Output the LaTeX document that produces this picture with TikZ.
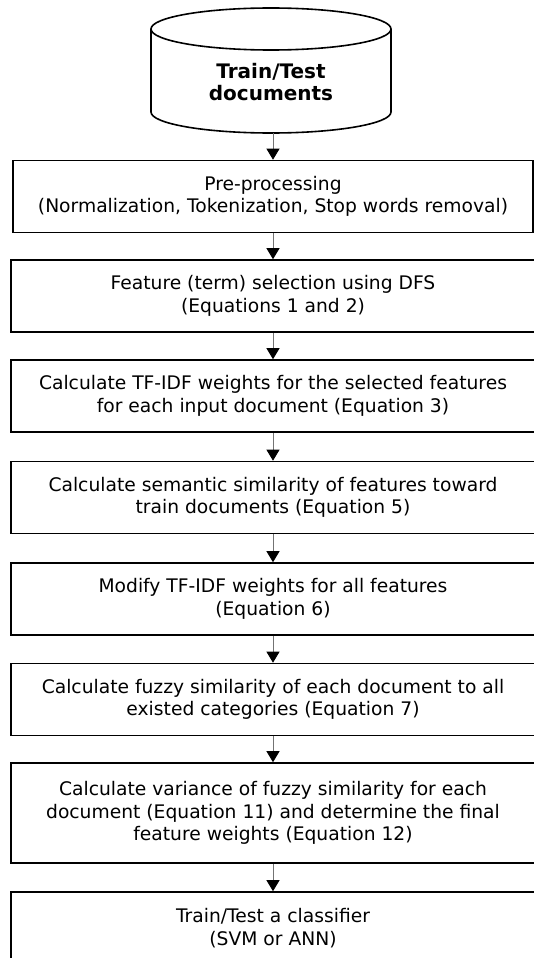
\documentclass[tikz,border=0pt]{standalone}
\usepackage{fontspec}
\setmainfont{DejaVu Sans}
\usepackage{tikz}
\usetikzlibrary{arrows.meta,positioning}

\begin{document}
\begin{tikzpicture}[x=1pt,y=-1pt, font=\fontsize{18.7}{22.5}\selectfont,
  stepbox/.style={draw, line width=1.6pt, minimum width=524pt, minimum height=72pt,
    align=center, inner sep=0pt},
  flow/.style={draw=black!55, line width=0.9pt,
    -{Triangle[length=11pt,width=13pt,color=black]}}]
\useasboundingbox (0,0) rectangle (534,958);
% data store
\draw[line width=1.6pt] (151,29) -- (151,112)
  arc[start angle=180,end angle=0,x radius=120,y radius=21] -- (391,29);
\draw[line width=1.6pt] (271,29) ellipse[x radius=120,y radius=21];
\node[font=\fontsize{20}{22}\selectfont\bfseries, align=center] (docs) at (271,82) {Train/Test\\documents};
\coordinate (dbase) at (273,133);
% steps
\node[stepbox, minimum width=520pt] (prep) at (273,196.5) {Pre-processing\\(Normalization, Tokenization, Stop words removal)};
\node[stepbox] (dfs)   at (273,296) {Feature (term) selection using DFS\\(Equations 1 and 2)};
\node[stepbox] (tfidf) at (273,396) {Calculate TF-IDF weights for the selected features\\for each input document (Equation 3)};
\node[stepbox] (sem)   at (273,497.5) {Calculate semantic similarity of features toward\\train documents (Equation 5)};
\node[stepbox] (mod)   at (273,599) {Modify TF-IDF weights for all features\\(Equation 6)};
\node[stepbox] (fuzzy) at (273,699.5) {Calculate fuzzy similarity of each document to all\\existed categories (Equation 7)};
\node[stepbox, minimum height=100pt] (var) at (273,813) {Calculate variance of fuzzy similarity for each\\document (Equation 11) and determine the final\\feature weights (Equation 12)};
\node[stepbox] (clf)   at (273,928) {Train/Test a classifier\\(SVM or ANN)};
% arrows
\draw[flow] (dbase) -- (prep);
\draw[flow] (prep) -- (dfs);
\draw[flow] (dfs) -- (tfidf);
\draw[flow] (tfidf) -- (sem);
\draw[flow] (sem) -- (mod);
\draw[flow] (mod) -- (fuzzy);
\draw[flow] (fuzzy) -- (var);
\draw[flow] (var) -- (clf);
\end{tikzpicture}
\end{document}
